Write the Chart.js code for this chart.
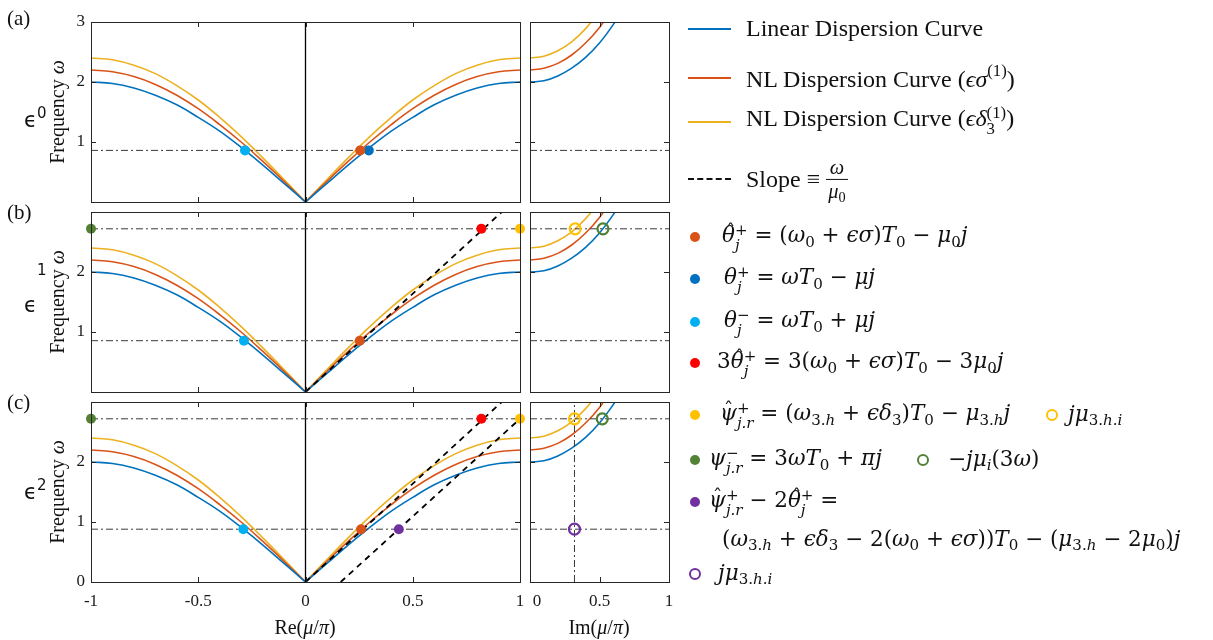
<!DOCTYPE html>
<html>
<head>
<meta charset="utf-8">
<script src="https://cdn.jsdelivr.net/npm/chart.js@4.4.1/dist/chart.umd.min.js"></script>
<style>
body { margin: 0; background: #fff; }
#fig { position: relative; width: 1213px; height: 640px; overflow: hidden; font-family: 'Liberation Serif', serif; color: #111; }
#fig canvas { position: absolute; left: 0; top: 0; }
.t { position: absolute; white-space: nowrap; transform: translateY(-50%); }
.c { position: absolute; white-space: nowrap; transform: translate(-50%, -50%); }
.lg { font-size: 24px; }
.m { font-size: 21.5px; font-family: 'DejaVu Serif', serif; }
.ss { display: inline-block; vertical-align: -0.5em; line-height: 0.95; font-size: 0.7em; text-align: left; }
.ss > span { display: block; }
.sub { font-size: 0.7em; vertical-align: -0.3em; }
.sup { font-size: 0.7em; vertical-align: 0.6em; }
.hat { position: relative; display: inline-block; }
.hat::after { content: '\02C6'; position: absolute; left: 0.2em; top: -0.12em; font-style: normal; font-size: 0.9em; }
.sw { position: absolute; height: 2px; width: 43px; }
.dot { position: absolute; width: 10px; height: 10px; border-radius: 50%; transform: translate(-50%, -50%); }
.ring { position: absolute; width: 8px; height: 8px; border-radius: 50%; border: 2.5px solid; transform: translate(-50%, -50%); }
.frac { display: inline-block; vertical-align: middle; text-align: center; font-size: 0.85em; line-height: 1.15; }
.frac > span { display: block; padding: 0 2px; }
.frac > span:first-child { border-bottom: 1.5px solid #111; }
</style>
</head>
<body>
<div id="fig">
  <canvas id="aL" width="1213" height="640"></canvas>
  <canvas id="aR" width="1213" height="640"></canvas>
  <canvas id="bL" width="1213" height="640"></canvas>
  <canvas id="bR" width="1213" height="640"></canvas>
  <canvas id="cL" width="1213" height="640"></canvas>
  <canvas id="cR" width="1213" height="640"></canvas>

  <div class="t" style="left:7px;top:18px;font-size:21px">(a)</div>
  <div class="t" style="left:7px;top:212px;font-size:21px">(b)</div>
  <div class="t" style="left:7px;top:402px;font-size:21px">(c)</div>

  <div class="t" style="left:24px;top:118px;font-family:'DejaVu Sans';font-size:21px">ϵ<span style="font-size:15px;vertical-align:0.55em">0</span></div>
  <div class="t" style="left:37px;top:270px;font-family:'DejaVu Sans';font-size:15px">1</div>
  <div class="t" style="left:24px;top:305px;font-family:'DejaVu Sans';font-size:21px">ϵ</div>
  <div class="t" style="left:24px;top:490px;font-family:'DejaVu Sans';font-size:21px">ϵ<span style="font-size:15px;vertical-align:0.55em">2</span></div>

  <div class="c" style="left:57px;top:112px;font-size:20px;transform:translate(-50%,-50%) rotate(-90deg)">Frequency <i>ω</i></div>
  <div class="c" style="left:57px;top:302px;font-size:20px;transform:translate(-50%,-50%) rotate(-90deg)">Frequency <i>ω</i></div>
  <div class="c" style="left:57px;top:492px;font-size:20px;transform:translate(-50%,-50%) rotate(-90deg)">Frequency <i>ω</i></div>

  <div class="c" style="left:305px;top:627px;font-size:20px">Re(<i>μ</i>/<i>π</i>)</div>
  <div class="c" style="left:599px;top:627px;font-size:20px">Im(<i>μ</i>/<i>π</i>)</div>

  <!-- legend -->
  <div class="sw" style="left:688px;top:28px;background:#0072BD;height:1.5px"></div>
  <div class="t lg" style="left:746px;top:28px">Linear Dispersion Curve</div>
  <div class="sw" style="left:688px;top:77px;background:#D95319"></div>
  <div class="t lg" style="left:746px;top:77px">NL Dispersion Curve (<i>ϵσ</i><span class="sup">(1)</span>)</div>
  <div class="sw" style="left:688px;top:121px;background:#EDB120"></div>
  <div class="t lg" style="left:746px;top:121px">NL Dispersion Curve (<i>ϵδ</i><span class="ss"><span>(1)</span><span>3</span></span>)</div>
  <div class="sw" style="left:688px;top:178px;height:0;border-top:2px dashed #111"></div>
  <div class="t lg" style="left:746px;top:181px">Slope ≡ <span class="frac"><span><i>ω</i></span><span><i>μ</i><span class="sub">0</span></span></span></div>

  <div class="dot" style="left:695px;top:237px;background:#D95319"></div>
  <div class="t m" style="left:722px;top:237px"><i class="hat">θ</i><span class="ss"><span>+</span><span><i>j</i></span></span> = (<i>ω</i><span class="sub">0</span> + <i>ϵσ</i>)<i>T</i><span class="sub">0</span> − <i>μ</i><span class="sub">0</span><i>j</i></div>
  <div class="dot" style="left:695px;top:279px;background:#0070C0"></div>
  <div class="t m" style="left:724px;top:279px"><i>θ</i><span class="ss"><span>+</span><span><i>j</i></span></span> = <i>ωT</i><span class="sub">0</span> − <i>μj</i></div>
  <div class="dot" style="left:695px;top:322px;background:#00B0F0"></div>
  <div class="t m" style="left:724px;top:322px"><i>θ</i><span class="ss"><span>−</span><span><i>j</i></span></span> = <i>ωT</i><span class="sub">0</span> + <i>μj</i></div>
  <div class="dot" style="left:695px;top:363px;background:#FF0000"></div>
  <div class="t m" style="left:717px;top:363px">3<i class="hat">θ</i><span class="ss"><span>+</span><span><i>j</i></span></span> = 3(<i>ω</i><span class="sub">0</span> + <i>ϵσ</i>)<i>T</i><span class="sub">0</span> − 3<i>μ</i><span class="sub">0</span><i>j</i></div>

  <div class="dot" style="left:695px;top:415px;background:#FFC000"></div>
  <div class="t m" style="left:720px;top:415px"><i class="hat">ψ</i><span class="ss"><span>+</span><span><i>j.r</i></span></span> = (<i>ω</i><span class="sub">3.<i>h</i></span> + <i>ϵδ</i><span class="sub">3</span>)<i>T</i><span class="sub">0</span> − <i>μ</i><span class="sub">3.<i>h</i></span><i>j</i></div>
  <div class="ring" style="left:1052px;top:415px;border-color:#FFC000"></div>
  <div class="t m" style="left:1068px;top:415px"><i>jμ</i><span class="sub">3.<i>h.i</i></span></div>

  <div class="dot" style="left:695px;top:460px;background:#538135"></div>
  <div class="t m" style="left:709px;top:460px"><i>ψ</i><span class="ss"><span>−</span><span><i>j.r</i></span></span> = 3<i>ωT</i><span class="sub">0</span> + <i>πj</i></div>
  <div class="ring" style="left:923px;top:460px;border-color:#538135"></div>
  <div class="t m" style="left:948px;top:460px">−<i>jμ</i><span class="sub"><i>i</i></span>(3<i>ω</i>)</div>

  <div class="dot" style="left:695px;top:502px;background:#7030A0"></div>
  <div class="t m" style="left:709px;top:502px"><i class="hat">ψ</i><span class="ss"><span>+</span><span><i>j.r</i></span></span> − 2<i class="hat">θ</i><span class="ss"><span>+</span><span><i>j</i></span></span> =</div>
  <div class="t m" style="left:722px;top:540px">(<i>ω</i><span class="sub">3.<i>h</i></span> + <i>ϵδ</i><span class="sub">3</span> − 2(<i>ω</i><span class="sub">0</span> + <i>ϵσ</i>))<i>T</i><span class="sub">0</span> − (<i>μ</i><span class="sub">3.<i>h</i></span> − 2<i>μ</i><span class="sub">0</span>)<i>j</i></div>
  <div class="ring" style="left:695px;top:574px;border-color:#7030A0"></div>
  <div class="t m" style="left:718px;top:574px"><i>jμ</i><span class="sub">3.<i>h.i</i></span></div>
</div>

<script>
// Re(mu/pi) >= 0 samples, curves are mirrored for negative Re
const reMu = [0, 0.1, 0.2, 0.3, 0.4, 0.5, 0.6, 0.7, 0.8, 0.9, 1.0];
const omegaLinear = [0, 0.31, 0.62, 0.91, 1.18, 1.41, 1.62, 1.78, 1.90, 1.975, 2.00];
const omegaSigma  = [0, 0.345, 0.68, 1.00, 1.29, 1.555, 1.78, 1.96, 2.09, 2.17, 2.20];
const omegaDelta  = [0, 0.375, 0.74, 1.09, 1.41, 1.70, 1.94, 2.14, 2.28, 2.37, 2.40];

// Im(mu/pi) branch
const imMu = [0, 0.1, 0.2, 0.3, 0.4, 0.5, 0.6, 0.7];
const omegaLinearIm = [2.00, 2.02, 2.10, 2.23, 2.41, 2.65, 2.96, 3.33];
const omegaSigmaIm  = [2.20, 2.23, 2.31, 2.45, 2.65, 2.91, 3.25, 3.66];
const omegaDeltaIm  = [2.40, 2.43, 2.52, 2.67, 2.89, 3.18, 3.55, 4.00];

// markers, one entry per row (a, b, c)
const omegaLow = [0.86, 0.855, 0.88];
const omegaHigh = 2.72;
const thetaHatPlus = [0.255, 0.253, 0.259];
const thetaPlus = 0.295;
const thetaMinus = [-0.282, -0.287, -0.29];
const threeThetaHat = 0.82;
const psiHatPlus = 1.0;
const psiMinus = -1.0;
const psiDiff = 0.435;
const imPsiHat = [0.325, 0.32];
const imPsiMinus = [0.525, 0.52];
const imPsiDiff = 0.32;
const slopeA = { x: [0, 0.915], y: [0, 3] };
const slopeB = { x: [0.164, 1.0], y: [0, 2.72] };

const reTicks = [-1, -0.5, 0, 0.5, 1];
const reTickLabels = ['-1', '-0.5', '0', '0.5', '1'];
const imTicks = [0, 0.5, 1];
const imTickLabels = ['0', '0.5', '1'];
const omegaTicks = [0, 1, 2, 3];

const C = { blue: '#0072BD', orange: '#D95319', yellow: '#EDB120' };
const D = { orange: '#D95319', blue: '#0070C0', cyan: '#00B0F0', red: '#FF0000',
            yellow: '#FFC000', green: '#538135', purple: '#7030A0' };

const framePlugin = {
  id: 'frame',
  afterDraw(chart, args, o) {
    const { ctx, chartArea: a, scales: { x, y } } = chart;
    ctx.save();
    ctx.strokeStyle = '#262626';
    ctx.lineWidth = 1;
    ctx.strokeRect(Math.round(a.left) + 0.5, Math.round(a.top) + 0.5, Math.round(a.width), Math.round(a.height));
    ctx.beginPath();
    o.xTicks.forEach(v => {
      const px = Math.round(x.getPixelForValue(v)) + 0.5;
      ctx.moveTo(px, a.bottom); ctx.lineTo(px, a.bottom - 5);
      ctx.moveTo(px, a.top); ctx.lineTo(px, a.top + 5);
    });
    o.yTicks.forEach(v => {
      const py = Math.round(y.getPixelForValue(v)) + 0.5;
      ctx.moveTo(a.left, py); ctx.lineTo(a.left + 5, py);
      ctx.moveTo(a.right, py); ctx.lineTo(a.right - 5, py);
    });
    ctx.stroke();
    ctx.fillStyle = '#1a1a1a';
    ctx.font = '17px "Liberation Serif"';
    if (o.xLabels) {
      ctx.textAlign = 'center'; ctx.textBaseline = 'middle';
      o.xTicks.forEach((v, i) => {
        const shift = (o.firstShift && i === 0) ? o.firstShift : 0;
        ctx.fillText(o.xLabels[i], x.getPixelForValue(v) + shift, a.bottom + 20);
      });
    }
    if (o.yLabels) {
      ctx.textAlign = 'right'; ctx.textBaseline = 'middle';
      o.yLabels.forEach(v => ctx.fillText(String(v), a.left - 6, y.getPixelForValue(v)));
    }
    ctx.restore();
  }
};

function pts(xs, ys) { return xs.map((v, i) => ({ x: v, y: ys[i] })); }
function curve(xs, ys, color) {
  return { data: pts(xs, ys), showLine: true, borderColor: color, borderWidth: 1.6,
           pointRadius: 0, tension: 0.4, order: 4 };
}
function mirrored(ys, color) {
  return [curve(reMu, ys, color), curve(reMu.map(v => -v), ys, color)];
}
function dashDot(x0, x1, y0, y1) {
  return { data: [{ x: x0, y: y0 }, { x: x1, y: y1 }], showLine: true, borderColor: '#3a3a3a',
           borderWidth: 1, borderDash: [7, 3, 2, 3], pointRadius: 0, order: 3 };
}
function slope(s) {
  return { data: pts(s.x, s.y), showLine: true, borderColor: '#000', borderWidth: 1.8,
           borderDash: [6, 5], pointRadius: 0, order: 2 };
}
function zeroAxis() {
  return { data: [{ x: 0, y: 0 }, { x: 0, y: 3 }], showLine: true, borderColor: '#000',
           borderWidth: 1.3, pointRadius: 0, order: 3 };
}
function dot(x, y, color) {
  return { data: [{ x, y }], showLine: false, pointRadius: 5, pointBackgroundColor: color,
           pointBorderColor: color, pointBorderWidth: 0, clip: false, order: 0 };
}
function ring(x, y, color) {
  return { data: [{ x, y }], showLine: false, pointRadius: 5.5, pointBackgroundColor: 'rgba(0,0,0,0)',
           pointBorderColor: color, pointBorderWidth: 2.2, clip: false, order: 0 };
}

function panel(id, box, xr, datasets, frame) {
  new Chart(document.getElementById(id), {
    type: 'scatter',
    data: { datasets },
    options: {
      responsive: false, animation: false, events: [],
      layout: { padding: { left: box[0], right: 1213 - box[1], top: box[2], bottom: 640 - box[3] } },
      scales: {
        x: { type: 'linear', min: xr[0], max: xr[1], display: false },
        y: { type: 'linear', min: 0, max: 3, display: false }
      },
      elements: { line: { capBezierPoints: false } },
      plugins: { legend: { display: false }, tooltip: { enabled: false }, frame }
    },
    plugins: [framePlugin]
  });
}

const rows = [[22, 202], [212, 392], [402, 582]];
const leftX = [91, 520], rightX = [530, 669];
const imCurves = () => [curve(imMu, omegaLinearIm, C.blue), curve(imMu, omegaSigmaIm, C.orange), curve(imMu, omegaDeltaIm, C.yellow)];
const reCurves = () => [...mirrored(omegaLinear, C.blue), ...mirrored(omegaSigma, C.orange), ...mirrored(omegaDelta, C.yellow)];

// (a)
panel('aL', [...leftX, ...rows[0]], [-1, 1], [
  dot(thetaHatPlus[0], omegaLow[0], D.orange), dot(thetaPlus, omegaLow[0], D.blue),
  dot(thetaMinus[0], omegaLow[0], D.cyan),
  dashDot(-1, 1, omegaLow[0], omegaLow[0]), zeroAxis(), ...reCurves()
], { xTicks: reTicks, yTicks: omegaTicks, yLabels: [1, 2, 3] });
panel('aR', [...rightX, ...rows[0]], [0, 1], [
  dashDot(0, 1, omegaLow[0], omegaLow[0]), ...imCurves()
], { xTicks: imTicks, yTicks: omegaTicks });

// (b)
panel('bL', [...leftX, ...rows[1]], [-1, 1], [
  dot(psiMinus, omegaHigh, D.green), dot(thetaMinus[1], omegaLow[1], D.cyan),
  dot(thetaHatPlus[1], omegaLow[1], D.orange), dot(threeThetaHat, omegaHigh, D.red),
  dot(psiHatPlus, omegaHigh, D.yellow),
  slope(slopeA),
  dashDot(-1, 1, omegaLow[1], omegaLow[1]), dashDot(-1, 1, omegaHigh, omegaHigh), zeroAxis(), ...reCurves()
], { xTicks: reTicks, yTicks: omegaTicks, yLabels: [1, 2] });
panel('bR', [...rightX, ...rows[1]], [0, 1], [
  ring(imPsiHat[0], omegaHigh, D.yellow), ring(imPsiMinus[0], omegaHigh, '#4E7F32'),
  dashDot(0, 1, omegaLow[1], omegaLow[1]), dashDot(0, 1, omegaHigh, omegaHigh), ...imCurves()
], { xTicks: imTicks, yTicks: omegaTicks });

// (c)
panel('cL', [...leftX, ...rows[2]], [-1, 1], [
  dot(psiMinus, omegaHigh, D.green), dot(thetaMinus[2], omegaLow[2], D.cyan),
  dot(thetaHatPlus[2], omegaLow[2], D.orange), dot(psiDiff, omegaLow[2], D.purple),
  dot(threeThetaHat, omegaHigh, D.red), dot(psiHatPlus, omegaHigh, D.yellow),
  slope(slopeA), slope(slopeB),
  dashDot(-1, 1, omegaLow[2], omegaLow[2]), dashDot(-1, 1, omegaHigh, omegaHigh), zeroAxis(), ...reCurves()
], { xTicks: reTicks, yTicks: omegaTicks, yLabels: [0, 1, 2], xLabels: reTickLabels });
panel('cR', [...rightX, ...rows[2]], [0, 1], [
  ring(imPsiHat[1], omegaHigh, D.yellow), ring(imPsiMinus[1], omegaHigh, '#4E7F32'),
  ring(imPsiDiff, omegaLow[2], D.purple),
  dashDot(0, 1, omegaLow[2], omegaLow[2]), dashDot(0, 1, omegaHigh, omegaHigh),
  dashDot(imPsiDiff, imPsiDiff, 0, 3), ...imCurves()
], { xTicks: imTicks, yTicks: omegaTicks, xLabels: imTickLabels, firstShift: 7 });
</script>
</body>
</html>
